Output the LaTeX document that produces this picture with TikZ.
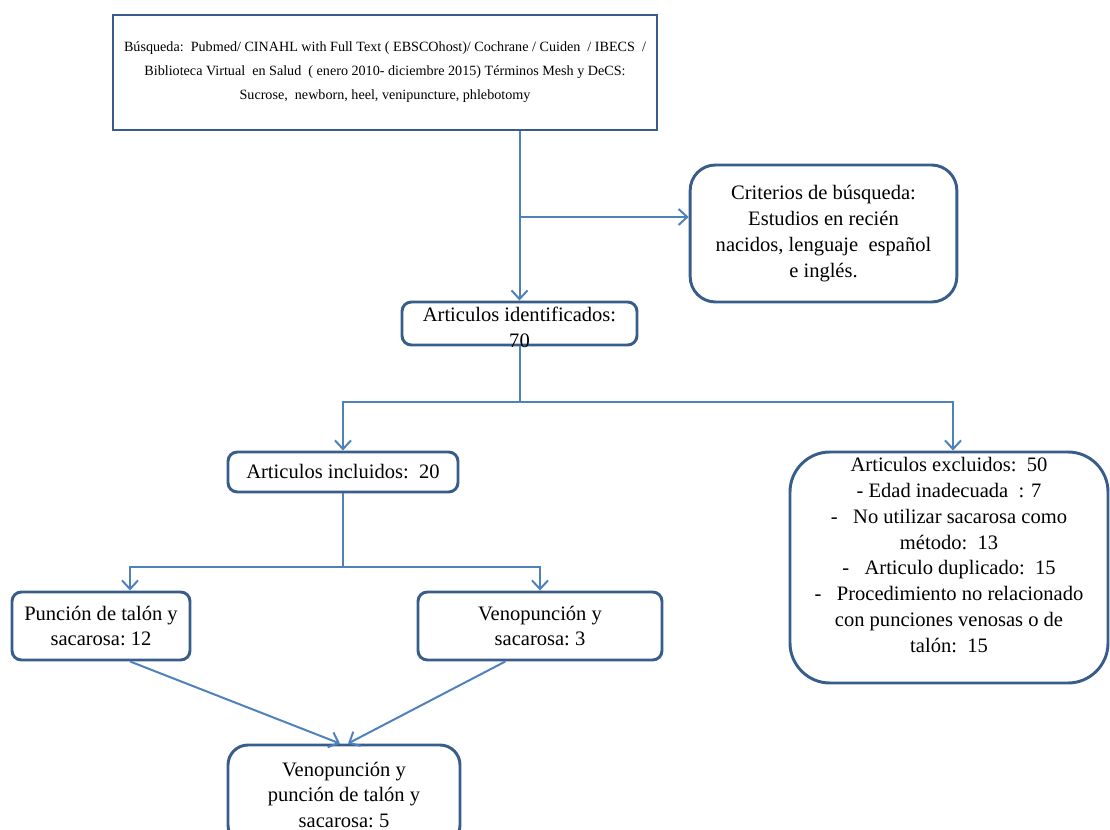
\documentclass[tikz,border=0pt]{standalone}
\usepackage{fontspec}
\setmainfont{Liberation Serif}
\usepackage{tikz}
\usetikzlibrary{arrows.meta,calc}
\definecolor{linea}{RGB}{79,129,189}
\definecolor{borde}{RGB}{56,93,138}

\begin{document}
\begin{tikzpicture}
[
x=0.75pt, y=-0.75pt,
txt/.style={align=center, font=\fontsize{15.4}{19.3}\selectfont},
search/.style={rectangle, draw=borde, line width=2.2pt, align=center, minimum width=408pt, minimum height=86.25pt, font=\fontsize{10.6}{18}\selectfont},
box/.style={rectangle, rounded corners=7pt, draw=borde, line width=2.2pt, txt},
bigbox/.style={box, rounded corners=19pt},
flow/.style={draw=linea, line width=1.5pt, -{Straight Barb[length=6.5pt,width=12pt,line width=1.5pt]}},
plain/.style={draw=linea, line width=1.5pt}
]
\useasboundingbox (0,0) rectangle (1110,830);
\clip (0,0) rectangle (1110,830);

%Nodes
\node[search]   (top)   at (385,72.5)   {\rule{0pt}{6pt}B\'usqueda:\ \ Pubmed/ CINAHL with Full Text ( EBSCOhost)/ Cochrane / Cuiden\ \ / IBECS\ \ /\\
                                         Biblioteca Virtual\ \ en Salud\ \ ( enero 2010- diciembre 2015) T\'erminos Mesh y DeCS:\\
                                         Sucrose,\ \ newborn, heel, venipuncture, phlebotomy};
\node[bigbox, minimum width=200pt, minimum height=102.75pt]  (crit)  at (823.5,233.5)
      {Criterios de b\'usqueda:\\ Estudios en reci\'en\\ nacidos, lenguaje\ \ espa\~nol\\ e ingl\'es.};
\node[box, minimum width=176.25pt, minimum height=32.25pt,
      label={[txt, yshift=-3pt]center:Articulos identificados:\\ 70}]  (ident)  at (519.5,323.5) {};
\node[box, minimum width=172.5pt, minimum height=30pt]   (incl)  at (343,472)  {Articulos incluidos:\ \ 20};
\node[box, rounded corners=30pt, minimum width=238.5pt, minimum height=173.25pt,
      label={[txt, yshift=9.4pt]center:Articulos excluidos:\ \ 50\\ - Edad inadecuada\ \ : 7\\
      -\ \ \ No utilizar sacarosa como\\ m\'etodo:\ \ 13\\ -\ \ \ Articulo duplicado:\ \ 15\\
      -\ \ \ Procedimiento no relacionado\\ con punciones venosas o de\\ tal\'on:\ \ 15}]  (excl)  at (949,567.5) {};
\node[box, minimum width=133.5pt, minimum height=51pt]   (punc)  at (101,626)  {Punci\'on de tal\'on y\\ sacarosa:\ 12};
\node[box, minimum width=183pt, minimum height=51pt]     (veno)  at (540,626)  {Venopunci\'on y\\ sacarosa:\ 3};
\node[box, rounded corners=15pt, minimum width=174pt, minimum height=75pt]  (fin)  at (344,795)
      {Venopunci\'on y\\ punci\'on de tal\'on y\\ sacarosa:\ 5};

\coordinate (split) at (519.5,217);
\coordinate (fork1) at (519.5,402);
\coordinate (fork2) at (343,567);

%Lines
\draw[flow]  (top.south -| ident.north) -- (ident.north);
\draw[flow]  (split) -- (split -| crit.west);
\draw[plain] (ident.south) -- (fork1);
\draw[flow]  (fork1) -| (incl.north);
\draw[flow]  (fork1) -| ([xshift=3pt]excl.north);
\draw[plain] (incl.south) -- (fork2);
\draw[flow]  (fork2) -| ([xshift=21.75pt]punc.north);
\draw[flow]  (fork2) -| (veno.north);
\draw[flow]  ([xshift=21.75pt]punc.south) -- ([xshift=-3pt]fin.north);
\draw[flow]  ([xshift=-26pt]veno.south) -- ([xshift=3pt]fin.north);

\end{tikzpicture}
\end{document}
